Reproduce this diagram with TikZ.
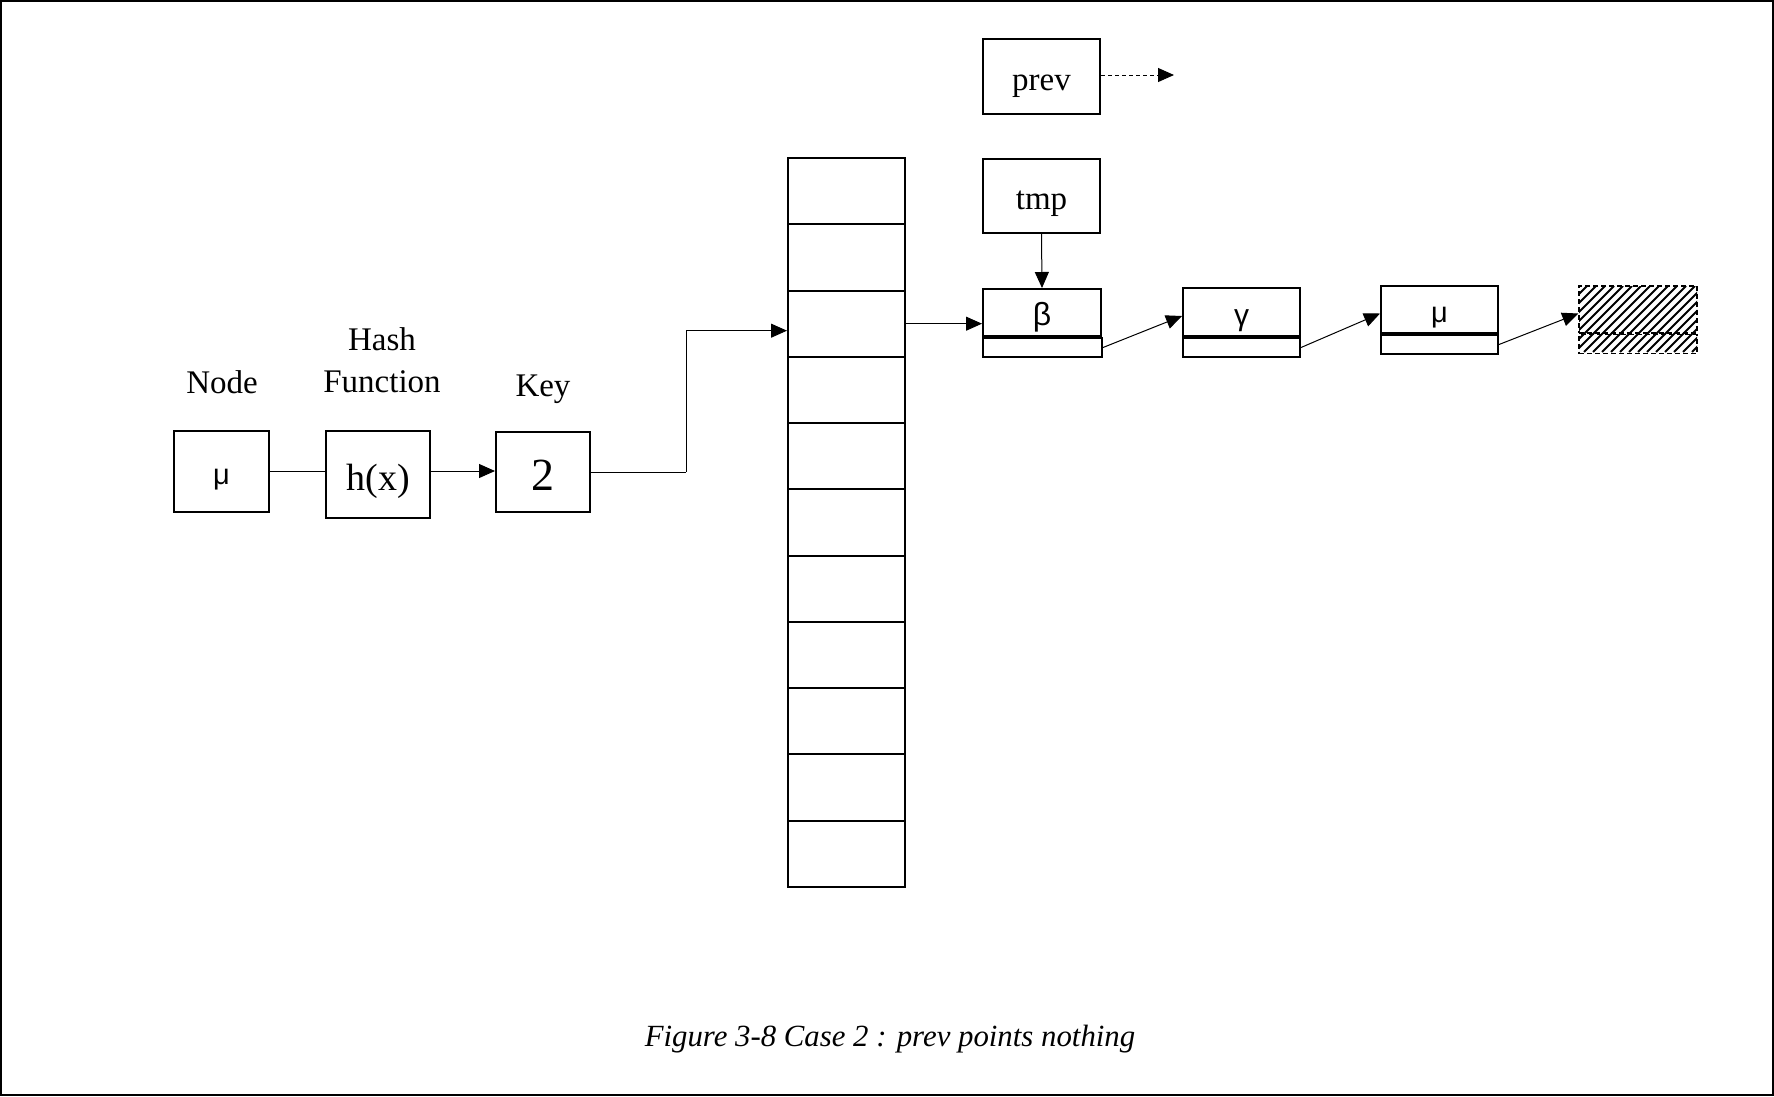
\documentclass[tikz,border=0pt]{standalone}
\usepackage{fontspec}
\setmainfont{Liberation Serif}
\newfontfamily\grk{Liberation Sans}
\usetikzlibrary{arrows.meta}
\tikzset{
  box/.style={draw, line width=2pt, inner sep=0pt, minimum width=#1},
  box/.default=117pt,
  bl/.style={text height=#1, text depth=0pt},
  lbl/.style={inner sep=0pt, anchor=base, font=\fontsize{33}{36}\selectfont},
  conn/.style={line width=1pt},
  arr/.style={line width=1pt, -{Triangle[length=16pt,width=14pt]}},
  dasharr/.style={line width=1pt, dash pattern=on 4pt off 3pt, -{Triangle[length=16pt,width=14pt]}},
  gk/.style={font=\grk\fontsize{30}{33}\selectfont, bl=26pt},
}
\begin{document}
\begin{tikzpicture}[x=1pt,y=-1pt]
\useasboundingbox (0,0) rectangle (1774,1096);
\draw[line width=2pt] (1,1) rectangle (1773,1095);

% left chain
\node[box=95pt, minimum height=81pt, font=\grk\fontsize{29}{32}\selectfont, bl=25pt] (mu) at (221.5,471.5) {μ};
\node[box=104pt, minimum height=87pt, font=\fontsize{38}{41}\selectfont, bl=31pt] (hx) at (378,474.5) {h(x)};
\node[box=94pt, minimum height=80pt, font=\fontsize{46}{50}\selectfont, bl=36pt] (key) at (543,472) {2};
\node[lbl] (lnode) at (222,393) {Node};
\node[lbl] (lhash) at (382,350) {Hash};
\node[lbl] (lfunc) at (382,392) {Function};
\node[lbl] (lkey) at (543,396) {Key};

\draw[conn] (mu.east |- 0,471) -- (hx.west |- 0,471);
\draw[arr] (hx.east |- 0,471) -- (key.west |- 0,471);

% table
\foreach \i in {1,...,11}{
  \node[box, minimum height=66.27pt] (row\i) at (846.5,{158+66.27*(\i-0.5)}) {};
}
\draw[conn] (key.east) -- (686,472) coordinate (kc);
\draw[arr] (kc) |- ([yshift=-7pt]row3.west);

% prev and tmp
\node[box, minimum height=75pt, font=\fontsize{33}{36}\selectfont, bl=27pt] (prev) at (1041.5,76.5) {prev};
\coordinate (pnull) at (1174,75);
\draw[dasharr] (prev.east |- pnull) -- (pnull);
\node[box, minimum height=74pt, font=\fontsize{33}{36}\selectfont, bl=26pt] (tmp) at (1041.5,196) {tmp};

% linked list
\node[box=118pt, minimum height=47pt, gk, font=\grk\fontsize{32}{35}\selectfont] (betaT) at (1042,312.5) {β};
\node[box=119pt, minimum height=19pt, anchor=north west] (betaB) at (betaT.south west) {};
\node[box=117pt, minimum height=48pt, gk] (gammaT) at (1241.5,312) {γ};
\node[box=117pt, minimum height=19pt, anchor=north west] (gammaB) at (gammaT.south west) {};
\node[box=117pt, minimum height=47pt, gk, font=\grk\fontsize{29}{32}\selectfont] (muT) at (1439.5,309.5) {μ};
\node[box=117pt, minimum height=19pt, anchor=north west] (muB) at (muT.south west) {};

% hatched null node
\begin{scope}
\clip (1579,286) rectangle (1697,352);
\foreach \k in {0,...,22}{
  \draw[line width=2pt] ({1512+9*\k},352) -- ++(66,-66);
}
\end{scope}
\node[draw, line width=1.5pt, dash pattern=on 5pt off 3pt, inner sep=0pt, minimum width=118pt, minimum height=47pt] (nullT) at (1638,309.5) {};
\node[draw, line width=1.5pt, dash pattern=on 5pt off 3pt, inner sep=0pt, minimum width=118pt, minimum height=19pt, anchor=north west] (nullB) at (nullT.south west) {};

\draw[arr] (row3.east) -- (row3.east -| betaT.west);
\draw[arr] (tmp.south) -- (betaT.north);
\draw[arr] (betaB.east) -- ([yshift=-4pt]gammaT.west);
\draw[arr] (gammaB.east) -- ([yshift=-4pt]muT.west);
\draw[arr] (muB.east) -- ([yshift=-4pt]nullT.west);

% caption
\node[inner sep=0pt, anchor=base, font=\itshape\fontsize{30.8}{34}\selectfont] (cap) at (890,1046) {Figure 3-8 Case 2 : prev points nothing};
\end{tikzpicture}
\end{document}
